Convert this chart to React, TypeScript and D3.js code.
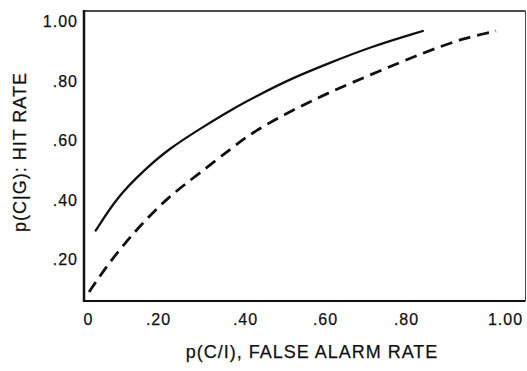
import React, { useEffect, useRef } from 'react';
import * as d3 from 'd3';

// tick values and their printed labels
const xTicks = [0, 0.2, 0.4, 0.6, 0.8, 1.0];
const xTickLabels = ['0', '.20', '.40', '.60', '.80', '1.00'];
const yTicks = [0.2, 0.4, 0.6, 0.8, 1.0];
const yTickLabels = ['.20', '.40', '.60', '.80', '1.00'];

// solid curve: false alarm rate / hit rate
const solidFA = [0.022, 0.083, 0.16, 0.221, 0.299, 0.375, 0.42, 0.513, 0.612, 0.711, 0.834];
const solidHit = [0.297, 0.41, 0.5, 0.568, 0.642, 0.709, 0.743, 0.807, 0.861, 0.914, 0.968];

// dashed curve
const dashedFA = [0.003, 0.046, 0.094, 0.151, 0.221, 0.29, 0.37, 0.42, 0.52, 0.612, 0.728, 0.834, 0.915, 0.982];
const dashedHit = [0.091, 0.165, 0.239, 0.316, 0.407, 0.484, 0.575, 0.629, 0.703, 0.763, 0.83, 0.894, 0.944, 0.968];

const width = 527;
const height = 371;
const frame = { left: 84, top: 11, right: 525.5, bottom: 301 };
const font = '"Liberation Sans", Arial, Helvetica, sans-serif';

export default function App() {
  const ref = useRef<HTMLDivElement>(null);

  useEffect(() => {
    const el = ref.current;
    if (!el) return;

    // the printed x axis is not evenly spaced, so the scale follows its ticks
    const xScale = d3.scaleLinear().domain(xTicks).range([88, 158, 245, 325, 406, 505]);
    const yScale = d3.scaleLinear().domain([0, 1]).range([319, 21.5]);

    const svg = d3
      .select(el)
      .append('svg')
      .attr('width', width)
      .attr('height', height)
      .style('display', 'block')
      .style('background', '#fff');

    // frame: heavy left/bottom, lighter top/right
    const g = svg.append('g').attr('fill', 'none').attr('stroke', '#111');
    g.append('line')
      .attr('x1', frame.left).attr('y1', frame.top - 1)
      .attr('x2', frame.left).attr('y2', frame.bottom + 1)
      .attr('stroke-width', 2.5);
    g.append('line')
      .attr('x1', frame.left - 1).attr('y1', frame.bottom)
      .attr('x2', frame.right).attr('y2', frame.bottom)
      .attr('stroke-width', 2);
    g.append('line')
      .attr('x1', frame.left).attr('y1', frame.top)
      .attr('x2', frame.right).attr('y2', frame.top)
      .attr('stroke-width', 1.6);
    g.append('line')
      .attr('x1', frame.right).attr('y1', frame.top)
      .attr('x2', frame.right).attr('y2', frame.bottom)
      .attr('stroke', '#444')
      .attr('stroke-width', 1);

    // tick labels
    svg
      .append('g')
      .selectAll('text')
      .data(xTicks)
      .enter()
      .append('text')
      .attr('x', (d) => xScale(d) + 0.5)
      .attr('y', 325)
      .attr('text-anchor', 'middle')
      .text((d, i) => xTickLabels[i]);

    svg
      .append('g')
      .selectAll('text')
      .data(yTicks)
      .enter()
      .append('text')
      .attr('x', 78)
      .attr('y', (d) => yScale(d) + 5.8)
      .attr('text-anchor', 'end')
      .text((d, i) => yTickLabels[i]);

    svg
      .selectAll('text')
      .attr('font-size', 16);

    // axis titles
    svg
      .append('text')
      .attr('x', 312)
      .attr('y', 358)
      .attr('text-anchor', 'middle')
      .attr('font-size', 18)
      .text('p(C/I), FALSE ALARM RATE');

    svg
      .append('text')
      .attr('transform', 'translate(25.5,152) rotate(-90)')
      .attr('text-anchor', 'middle')
      .attr('font-size', 18)
      .text('p(C|G): HIT RATE');

    // printed type is a little heavier than the regular face
    svg
      .selectAll('text')
      .attr('font-family', font)
      .attr('letter-spacing', 1)
      .attr('fill', '#111')
      .attr('stroke', '#111')
      .attr('stroke-width', 0.25);

    // curves
    const path = d3.line().curve(d3.curveBasis);
    const solidPts = solidFA.map((fa, i) => [xScale(fa), yScale(solidHit[i])] as [number, number]);
    const dashedPts = dashedFA.map((fa, i) => [xScale(fa), yScale(dashedHit[i])] as [number, number]);

    svg
      .append('path')
      .attr('d', path(solidPts))
      .attr('fill', 'none')
      .attr('stroke', '#111')
      .attr('stroke-width', 2.3)
      .attr('stroke-linecap', 'round');

    svg
      .append('path')
      .attr('d', path(dashedPts))
      .attr('fill', 'none')
      .attr('stroke', '#111')
      .attr('stroke-width', 2.8)
      .attr('stroke-dasharray', '12,7');

    return () => {
      svg.remove();
    };
  }, []);

  return <div ref={ref} style={{ position: 'absolute', left: 0, top: 0 }}></div>;
}
